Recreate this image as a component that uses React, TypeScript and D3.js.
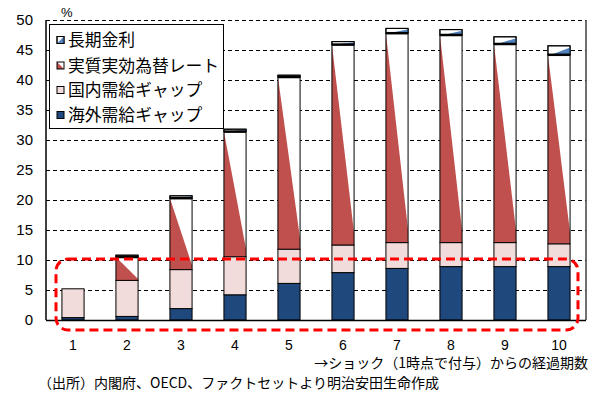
import React from "react";
import * as d3 from "d3";

const categories = ["1", "2", "3", "4", "5", "6", "7", "8", "9", "10"];
const overseasGap = [0.4, 0.6, 1.9, 4.2, 6.1, 7.9, 8.6, 8.9, 8.9, 8.9];
const domesticGap = [4.8, 6.0, 6.5, 6.35, 5.7, 4.6, 4.3, 4.0, 4.0, 3.8];
const realFx = [0, 3.9, 11.9, 20.85, 28.7, 33.4, 34.9, 34.6, 33.1, 31.5];
const longRate = [0, 0.3, 0.4, 0.4, 0.3, 0.5, 0.8, 0.9, 1.2, 1.5];
const yTicks = [0, 5, 10, 15, 20, 25, 30, 35, 40, 45, 50];
const legendLabels = ["長期金利", "実質実効為替レート", "国内需給ギャップ", "海外需給ギャップ"];

const W = 596, H = 394;
const left = 46, right = 586, top = 20, bottom = 320;
const NAVY = "#1F497D", PINK = "#F2DCDB", RED = "#C0504D", BLUE = "#4F81BD";
const JP = "'Noto Sans CJK JP', sans-serif";
const NUM = "'Liberation Sans', Arial, sans-serif";

export default function App() {
  const x = d3.scaleBand<string>().domain(categories).range([left, right]).paddingInner(0.59).paddingOuter(0.295);
  const y = d3.scaleLinear().domain([0, 50]).range([bottom, top]);
  const bw = x.bandwidth();

  const bars = categories.map((c, i) => {
    const x0 = x(c)!;
    const x1 = x0 + bw;
    const v0 = overseasGap[i];
    const v1 = v0 + domesticGap[i];
    const v2 = v1 + realFx[i];
    const v3 = v2 + longRate[i];
    const parts: React.ReactNode[] = [];
    parts.push(<rect key="n" x={x0} y={y(v0)} width={bw} height={y(0) - y(v0)} fill={NAVY} stroke="#000" strokeWidth={1} />);
    parts.push(<rect key="p" x={x0} y={y(v1)} width={bw} height={y(v0) - y(v1)} fill={PINK} stroke="#000" strokeWidth={1} />);
    if (realFx[i] > 0) {
      const yt = y(v2), yb = y(v1), h = yb - yt;
      parts.push(<rect key="rw" x={x0} y={yt} width={bw} height={h} fill="#fff" />);
      parts.push(<polygon key="rp" points={`${x0},${yt} ${x1},${yb - 0.06 * h} ${x1},${yb} ${x0},${yb}`} fill={RED} />);
      parts.push(<rect key="ro" x={x0} y={yt} width={bw} height={h} fill="none" stroke="#000" strokeWidth={1} />);
    }
    if (longRate[i] > 0) {
      const yt = y(v3), yb = y(v2), h = yb - yt;
      parts.push(<rect key="bw" x={x0} y={yt} width={bw} height={h} fill="#fff" stroke="#000" strokeWidth={1} />);
      parts.push(<polygon key="bp" points={`${x0 + 0.15 * bw},${yb} ${x1},${yt + 0.2 * h} ${x1},${yb}`} fill={BLUE} />);
      parts.push(<rect key="bo" x={x0} y={yt} width={bw} height={h} fill="none" stroke="#000" strokeWidth={1} />);
      parts.push(<line key="th" x1={x0} x2={x1} y1={yb} y2={yb} stroke="#000" strokeWidth={2.5} />);
    }
    return <g key={c}>{parts}</g>;
  });

  const legendY = [40, 65.5, 90, 115];
  const lx = 57;

  return (
    <svg width={W} height={H} style={{ position: "absolute", left: 0, top: 0, background: "#fff" }}>
      <rect x={0} y={0} width={W} height={H} fill="#fff" />
      {yTicks.filter((t) => t > 0).map((t) => (
        <line key={t} x1={left} x2={right} y1={y(t) + 0.5} y2={y(t) + 0.5} stroke="#000" strokeWidth={1} strokeDasharray="4,3" />
      ))}
      <line x1={right} x2={right} y1={top} y2={bottom} stroke="#404040" strokeWidth={1.5} />
      {bars}
      <line x1={left} x2={left} y1={top} y2={bottom} stroke="#000" strokeWidth={1.5} />
      <line x1={left} x2={right} y1={bottom + 0.5} y2={bottom + 0.5} stroke="#000" strokeWidth={1.5} />
      {yTicks.map((t) => (
        <text key={t} x={33} y={y(t) + 5} textAnchor="end" fontFamily={NUM} fontSize={15} fill="#000">{t}</text>
      ))}
      <text x={61} y={17} fontFamily={NUM} fontSize={13} fill="#000">%</text>
      {categories.map((c) => (
        <text key={c} x={x(c)! + bw / 2} y={350} textAnchor="middle" fontFamily={NUM} fontSize={14} fill="#000">{c}</text>
      ))}
      <text x={588} y={368} textAnchor="end" fontFamily={JP} fontSize={14} fill="#000">→ショック（1時点で付与）からの経過期数</text>
      <text x={38} y={388} fontFamily={JP} fontSize={14} fill="#000">（出所）内閣府、OECD、ファクトセットより明治安田生命作成</text>

      <rect x={49.5} y={24.5} width={174} height={104} fill="#fff" stroke="#000" strokeWidth={1} />
      {legendLabels.map((lab, i) => {
        const cy = legendY[i];
        const s = 7;
        const sx = lx, sy = cy - s / 2;
        let icon: React.ReactNode;
        if (i === 0) {
          icon = (
            <g>
              <rect x={sx} y={sy} width={s} height={s} fill="#fff" stroke="#000" strokeWidth={1} />
              <polygon points={`${sx},${sy + s} ${sx + s},${sy} ${sx + s},${sy + s}`} fill={BLUE} />
              <rect x={sx} y={sy} width={s} height={s} fill="none" stroke="#000" strokeWidth={1} />
            </g>
          );
        } else if (i === 1) {
          icon = (
            <g>
              <rect x={sx} y={sy} width={s} height={s} fill="#fff" />
              <polygon points={`${sx},${sy} ${sx + s},${sy + s} ${sx},${sy + s}`} fill={RED} />
              <rect x={sx} y={sy} width={s} height={s} fill="none" stroke="#000" strokeWidth={1} />
            </g>
          );
        } else {
          icon = <rect x={sx} y={sy} width={s} height={s} fill={i === 2 ? PINK : NAVY} stroke="#000" strokeWidth={1} />;
        }
        return (
          <g key={lab}>
            {icon}
            <text x={68} y={cy + 6} fontFamily={JP} fontSize={16.8} fill="#000">{lab}</text>
          </g>
        );
      })}

      <rect x={56} y={259} width={522} height={71} rx={12} ry={12} fill="none" stroke="#FF0000" strokeWidth={3} strokeDasharray="9,5" />
    </svg>
  );
}
